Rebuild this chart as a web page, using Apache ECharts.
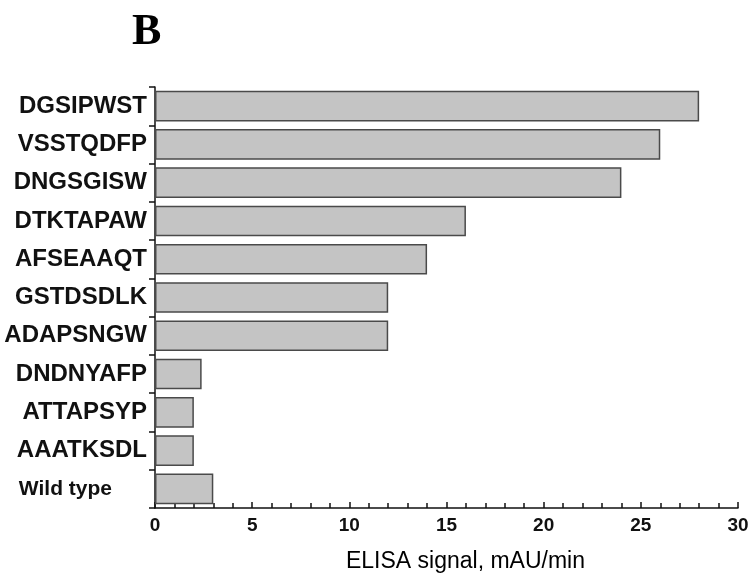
<!DOCTYPE html>
<html>
<head>
<meta charset="utf-8">
<script src="https://cdn.jsdelivr.net/npm/echarts@6/dist/echarts.min.js"></script>
<style>
  html, body { margin: 0; padding: 0; background: #fff; }
  #chart { width: 752px; height: 579px; }
</style>
</head>
<body>
<div id="chart"></div>
<script>
// peptide names, top to bottom as drawn
const peptides = ['DGSIPWST', 'VSSTQDFP', 'DNGSGISW', 'DTKTAPAW', 'AFSEAAQT',
    'GSTDSDLK', 'ADAPSNGW', 'DNDNYAFP', 'ATTAPSYP', 'AAATKSDL', 'Wild type'];
// ELISA signal, mAU/min
const signal = [28, 26, 24, 16, 14, 12, 12, 2.4, 2, 2, 3];
const xTicks = [0, 5, 10, 15, 20, 25, 30];

const myChart = echarts.init(document.getElementById('chart'));

// category axis runs bottom -> top, so flip arrays
const cats = peptides.slice().reverse();
const vals = signal.slice().reverse();

const option = {
    animation: false,
    title: {
        text: 'B',
        left: 127,
        top: 6,
        textStyle: {fontFamily: 'Liberation Serif', fontWeight: 'bold', fontSize: 44, color: '#000'}
    },
    grid: {left: 155, right: 14, top: 87, bottom: 71},
    xAxis: {
        type: 'value',
        min: xTicks[0],
        max: xTicks[xTicks.length - 1],
        interval: 5,
        minorTick: {show: true, splitNumber: 5, length: 5, lineStyle: {color: '#111', width: 1.5}},
        axisLine: {show: true, lineStyle: {color: '#111', width: 1.5}},
        axisTick: {show: true, inside: true, length: 6, lineStyle: {color: '#111', width: 1.5}},
        splitLine: {show: false},
        axisLabel: {
            color: '#111', fontFamily: 'Liberation Sans', fontWeight: 'bold', fontSize: 19, margin: 8
        },
        name: 'ELISA signal, mAU/min',
        nameLocation: 'middle',
        nameGap: 42,
        nameTextStyle: {color: '#000', fontFamily: 'Liberation Sans', fontSize: 23, padding: [0, 0, 0, 38]}
    },
    yAxis: {
        type: 'category',
        data: cats,
        axisLine: {show: true, lineStyle: {color: '#111', width: 1.5}},
        axisTick: {show: true, length: 6, inside: false, lineStyle: {color: '#111', width: 1.5}},
        axisLabel: {
            margin: 8,
            formatter: v => v === 'Wild type' ? '{wt|' + v + '}' : '{p|' + v + '}',
            rich: {
                p: {color: '#111', fontFamily: 'Liberation Sans', fontWeight: 'bold', fontSize: 24},
                wt: {color: '#111', fontFamily: 'Liberation Sans', fontWeight: 'bold', fontSize: 21, padding: [0, 35, 0, 0]}
            }
        }
    },
    series: [{
        type: 'bar',
        data: vals,
        barCategoryGap: '20%',
        itemStyle: {color: '#c4c4c4', borderColor: '#4a4a4a', borderWidth: 1.5}
    }]
};

myChart.setOption(option);
</script>
</body>
</html>
